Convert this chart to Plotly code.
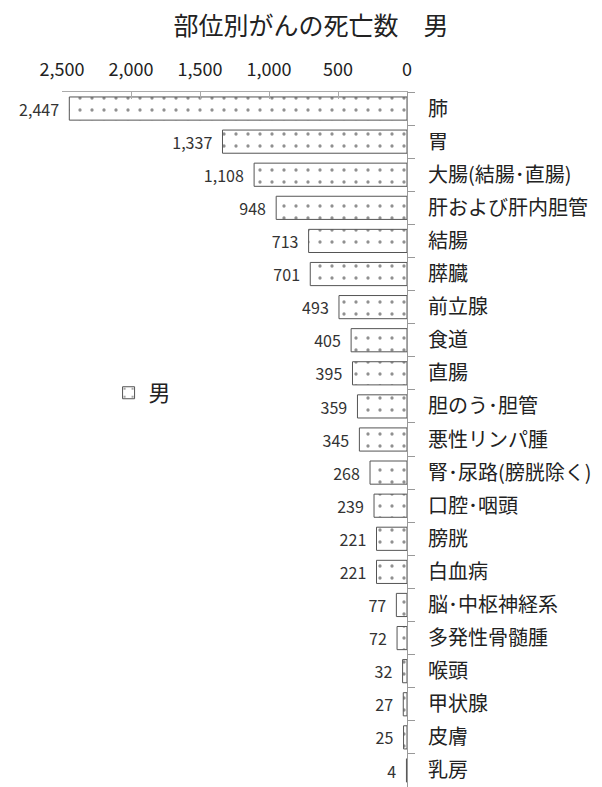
import plotly.graph_objects as go

sites = ['肺', '胃', '大腸(結腸･直腸)', '肝および肝内胆管', '結腸', '膵臓', '前立腺', '食道', '直腸',
         '胆のう･胆管', '悪性リンパ腫', '腎･尿路(膀胱除く)', '口腔･咽頭', '膀胱', '白血病',
         '脳･中枢神経系', '多発性骨髄腫', '喉頭', '甲状腺', '皮膚', '乳房']
deaths = [2447, 1337, 1108, 948, 713, 701, 493, 405, 395, 359, 345, 268, 239, 221, 221,
          77, 72, 32, 27, 25, 4]

font = "Noto Sans CJK JP"

fig = go.Figure(go.Bar(
    x=deaths, y=sites, orientation='h', name='男',
    width=0.7,
    marker=dict(color='white', line=dict(color='#555555', width=1),
                pattern=dict(shape='.', fgcolor='#222222', bgcolor='white', size=12, solidity=0.06)),
    texttemplate='%{x:,}  ', textposition='outside', cliponaxis=False,
    textfont=dict(size=18, color='#333333', family=font),
))

# the page body has an 8px margin, so the figure is a bit smaller than the window
fig.update_layout(
    width=594, height=779,
    margin=dict(l=54, r=195, t=84, b=0),
    paper_bgcolor='white', plot_bgcolor='white',
    font=dict(family=font, color='#222222'),
    title=dict(text='部位別がんの死亡数　男', x=0.51, xref='container', xanchor='center',
               y=0.976, yanchor='middle', font=dict(size=25, color='#222222')),
    showlegend=True,
    legend=dict(x=0.135, y=0.567, xanchor='left', yanchor='middle', font=dict(size=22),
                bgcolor='rgba(0,0,0,0)'),
    xaxis=dict(side='top', range=[2500, 0], dtick=500, tickformat=',', showgrid=False,
               zeroline=False, showline=True, linecolor='#aaaaaa', ticks='inside', ticklen=7,
               tickcolor='#aaaaaa', automargin=False, ticklabelstandoff=8,
               tickfont=dict(size=18, color='#222222')),
    yaxis=dict(side='right', autorange='reversed', showgrid=False, showline=True,
               linecolor='#999999', ticks='outside', ticklen=7, tickcolor='#999999',
               tickson='boundaries', automargin=False, ticklabelstandoff=16,
               tickfont=dict(size=20, color='#222222')),
)

fig.write_html("out.html")
